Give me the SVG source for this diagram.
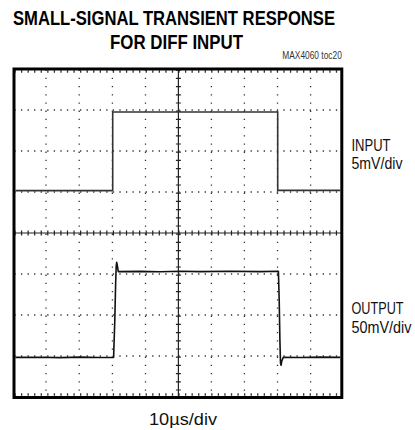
<svg xmlns="http://www.w3.org/2000/svg" width="415" height="430" viewBox="0 0 415 430">
<style>
.title{font-family:"Liberation Sans Narrow","Liberation Sans",Arial,sans-serif;font-weight:bold;font-size:20px;fill:#000}
.lbl{font-family:"Liberation Sans Narrow","Liberation Sans",Arial,sans-serif;font-size:16.5px;fill:#111}
.small{font-family:"Liberation Sans Narrow","Liberation Sans",Arial,sans-serif;font-size:10px;fill:#333}
.hdot{stroke:#333;stroke-width:1.3;stroke-dasharray:1.3 5.26;fill:none}
.vdot{stroke:#333;stroke-width:1.3;stroke-dasharray:1.3 6.9;fill:none}
.htick{stroke:#222;stroke-width:5;stroke-dasharray:1.2 5.36;fill:none}
.vtick{stroke:#222;stroke-width:5;stroke-dasharray:1.2 7;fill:none}
.axis{stroke:#222;stroke-width:1.2;fill:none}
.trace{fill:none;stroke-linejoin:round;stroke-width:1.6}
</style>
<rect width="415" height="430" fill="#fff"/>
<g id="title">
<text class="title" x="13" y="25" textLength="322" lengthAdjust="spacingAndGlyphs">SMALL-SIGNAL TRANSIENT RESPONSE</text>
<text class="title" x="110" y="49.3" textLength="133" lengthAdjust="spacingAndGlyphs">FOR DIFF INPUT</text>
<text class="small" x="282.3" y="59" textLength="59.5" lengthAdjust="spacingAndGlyphs">MAX4060 toc20</text>
</g>
<g id="grid">
<path class="hdot" d="M14.4,110H342M14.4,151H342M14.4,192H342M14.4,274H342M14.4,315H342M14.4,356H342"/>
<path class="vdot" d="M46,69.6V397M79.2,69.6V397M112.4,69.6V397M145.5,69.6V397M211.4,69.6V397M244.4,69.6V397M277.5,69.6V397M310.6,69.6V397"/>
<path class="hdot" style="stroke-width:2.4" d="M14.4,71.5H342M14.4,394.5H342"/>
<path class="axis" d="M14,233H342M178.4,69V397"/>
<path class="htick" d="M14.4,233H342"/>
<path class="vtick" d="M178.4,69.6V397"/>
</g>
<g id="frame">
<rect x="14" y="69" width="327.8" height="328.5" fill="none" stroke="#000" stroke-width="3"/>
</g>
<g id="input-trace">
<path class="trace" stroke="#333" d="M15.5,190.6H112.7V112H277.7V190.4H340.3"/>
</g>
<g id="output-trace">
<path class="trace" stroke="#111" d="M15.5,357.4L40,357.2L60,357.6L80,357.1L100,357.5L113.6,357.4L114.8,320L115.6,285L116.2,266L116.7,262.3L117.4,266L118.3,271.6L140,271.4L160,271.8L180,271.3L200,271.6L230,271.2L260,271.6L278.4,271.3L279.2,300L279.9,340L280.5,363L281.1,365.2L281.8,361L283.3,357.2L300,357.5L320,357.1L340.3,357.4"/>
</g>
<g id="labels">
<text class="lbl" x="351.5" y="150.5" textLength="39" lengthAdjust="spacingAndGlyphs">INPUT</text>
<text class="lbl" x="351.5" y="169" textLength="51" lengthAdjust="spacingAndGlyphs">5mV/div</text>
<text class="lbl" x="351.5" y="314" textLength="52" lengthAdjust="spacingAndGlyphs">OUTPUT</text>
<text class="lbl" x="351.5" y="332.5" textLength="60" lengthAdjust="spacingAndGlyphs">50mV/div</text>
<text class="lbl" x="149" y="425" textLength="68" lengthAdjust="spacingAndGlyphs">10µs/div</text>
</g>
</svg>
